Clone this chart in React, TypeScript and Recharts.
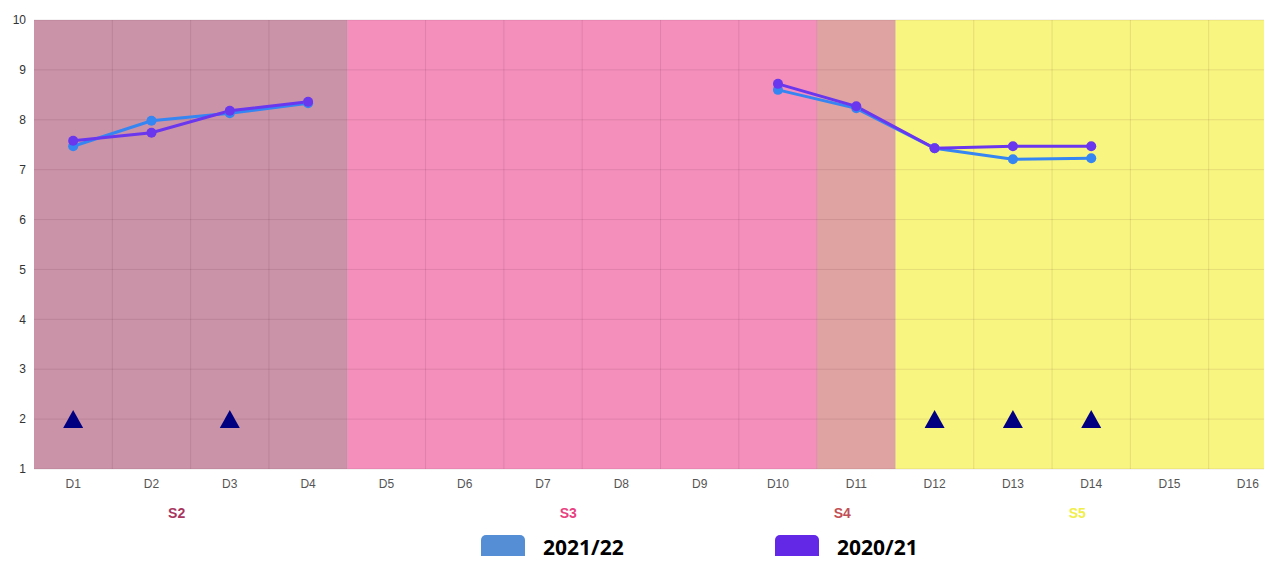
import {
  ComposedChart,
  Line,
  ReferenceArea,
  ReferenceLine,
  XAxis,
  YAxis,
} from "recharts";

const categories = ["D1", "D2", "D3", "D4", "D5", "D6", "D7", "D8", "D9", "D10", "D11", "D12", "D13", "D14", "D15", "D16"];

const values2122 = [7.47, 7.98, 8.13, 8.33, null, null, null, null, null, 8.6, 8.23, 7.43, 7.21, 7.23, null, null];
const values2021 = [7.58, 7.74, 8.18, 8.36, null, null, null, null, null, 8.72, 8.27, 7.43, 7.47, 7.47, null, null];
const markers = [2, null, 2, null, null, null, null, null, null, null, null, 2, 2, 2, null, null];

const yTicks = [1, 2, 3, 4, 5, 6, 7, 8, 9, 10];

const segmentNames = ["S2", "S3", "S4", "S5"];
const segmentFrom = ["D1", "D5", "D11", "D12"];
const segmentTo = ["D4", "D10", "D11", "D16"];

const seriesNames = ["2021/22", "2020/21"];

const BAND_FILLS = ["#cb93a7", "#f48fbb", "#dfa3a2", "#f9f581"];
const BAND_LABELS = ["#a8365f", "#e8417f", "#c24f55", "#f1ee4a"];
const LINE_COLORS = ["#3585f2", "#6a36ee"];
const LEGEND_COLORS = ["#558ed5", "#6228e6"];
const GRID = "rgba(60, 0, 30, 0.1)";

const data = categories.map((c, i) => ({
  day: c,
  s2122: values2122[i],
  s2021: values2021[i],
  marker: markers[i],
}));

// navy triangles at y = 2
function Triangle(props: any) {
  const { cx, cy, value } = props;
  if (value == null || cx == null || cy == null) return <g />;
  return (
    <polygon
      points={`${cx},${cy - 9} ${cx - 10},${cy + 9} ${cx + 10},${cy + 9}`}
      fill="#000080"
    />
  );
}

function SegmentLabel({ viewBox, value, color }: any) {
  if (!viewBox) return null;
  return (
    <text
      x={viewBox.x + viewBox.width / 2 - 14}
      y={viewBox.y + viewBox.height + 49}
      textAnchor="middle"
      fill={color}
      fontSize={14}
      fontWeight="bold"
      fontFamily="Arial, sans-serif"
    >
      {value}
    </text>
  );
}

export default function App() {
  return (
    <div style={{ margin: -8, width: 1272, height: 564, overflow: "hidden" }}>
      <ComposedChart
        width={1287}
        height={535}
        data={data}
        margin={{ top: 20, right: 0, bottom: 36, left: 0 }}
      >
        <XAxis
          dataKey="day"
          scale="band"
          axisLine={false}
          tickLine={false}
          tickMargin={4}
          interval={0}
          tick={{ fill: "#555", fontSize: 12, fontFamily: "Arial, sans-serif" }}
        />
        <YAxis
          width={34}
          domain={[1, 10]}
          ticks={yTicks}
          interval={0}
          axisLine={false}
          tickLine={false}
          tick={{ fill: "#333", fontSize: 12, fontFamily: "Arial, sans-serif" }}
        />
        {segmentNames.map((name, i) => (
          <ReferenceArea
            key={name}
            x1={segmentFrom[i]}
            x2={segmentTo[i]}
            y1={1}
            y2={10}
            fill={BAND_FILLS[i]}
            fillOpacity={1}
            stroke="none"
            label={<SegmentLabel value={name} color={BAND_LABELS[i]} />}
          />
        ))}
        {categories.slice(1).map((c) => (
          <ReferenceLine key={c} x={c} position="start" stroke={GRID} strokeWidth={1} />
        ))}
        {yTicks.map((t) => (
          <ReferenceLine key={t} y={t} stroke={GRID} strokeWidth={1} />
        ))}
        <Line
          dataKey="marker"
          stroke="none"
          dot={<Triangle />}
          activeDot={false}
          legendType="none"
          isAnimationActive={false}
        />
        <Line
          dataKey="s2122"
          name={seriesNames[0]}
          stroke={LINE_COLORS[0]}
          strokeWidth={3}
          dot={{ r: 5, fill: LINE_COLORS[0], stroke: LINE_COLORS[0], strokeWidth: 0 }}
          activeDot={false}
          isAnimationActive={false}
        />
        <Line
          dataKey="s2021"
          name={seriesNames[1]}
          stroke={LINE_COLORS[1]}
          strokeWidth={3}
          dot={{ r: 5, fill: LINE_COLORS[1], stroke: LINE_COLORS[1], strokeWidth: 0 }}
          activeDot={false}
          isAnimationActive={false}
        />
      </ComposedChart>
      <div style={{ display: "flex", paddingLeft: 481, height: 29 }}>
        {seriesNames.map((name, i) => (
          <div key={name} style={{ display: "flex", alignItems: "flex-start", width: 294 }}>
            <span
              style={{
                width: 44,
                height: 29,
                borderRadius: "5px 5px 0 0",
                backgroundColor: LEGEND_COLORS[i],
                flexShrink: 0,
              }}
            />
            <span
              style={{
                marginLeft: 18,
                marginTop: 0,
                fontFamily: "'Open Sans', sans-serif",
                fontWeight: 700,
                fontSize: 21,
                lineHeight: "24px",
                color: "#000",
              }}
            >
              {name}
            </span>
          </div>
        ))}
      </div>
    </div>
  );
}
